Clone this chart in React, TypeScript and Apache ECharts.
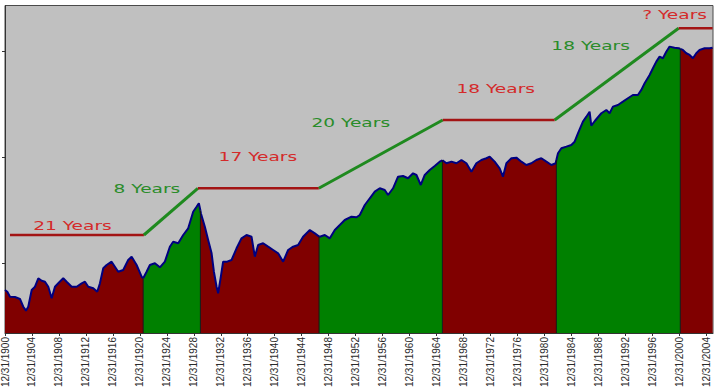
import React, { useEffect, useRef } from "react";
import * as echarts from "echarts";

// Dow Jones Industrial Average (log scale), x = decimal year
const bear1901: [number, number][] = [
  [1901.0, 56.3], [1901.34, 54.3], [1901.74, 48.7], [1902.48, 48.4], [1903.22, 46.4], [1903.71, 39.2],
  [1904.11, 36.0], [1904.45, 39.2], [1904.96, 56.3], [1905.45, 60.5], [1905.94, 72.6], [1906.44, 68.9],
  [1906.93, 67.4], [1907.42, 60.5], [1907.92, 47.1], [1908.41, 60.5], [1908.9, 65.1], [1909.64, 72.6],
  [1910.14, 67.4], [1910.89, 60.5], [1911.63, 60.5], [1912.37, 65.1], [1912.86, 67.4], [1913.35, 60.5],
  [1914.09, 58.5], [1914.68, 54.3], [1915.08, 65.1], [1915.57, 90.1], [1916.07, 96.8], [1916.81, 104],
  [1917.3, 93.3], [1917.79, 83.7], [1918.53, 86.9], [1919.27, 107.9], [1919.78, 115.9], [1920.52, 96.8],
  [1921.26, 75.1], [1921.5, 72.6],
];
const bull1921: [number, number][] = [
  [1921.5, 72.6], [1922.0, 83.7], [1922.49, 96.8], [1923.23, 100.4], [1923.97, 92.1], [1924.71, 104],
  [1925.45, 143.9], [1925.94, 160.4], [1926.69, 154.9], [1927.43, 185.4], [1928.17, 214.4], [1928.91, 307.1],
  [1929.41, 342.1], [1929.75, 368.4], [1929.98, 315],
];
const bear1929: [number, number][] = [
  [1929.98, 315], [1930.05, 296.7], [1930.64, 221.9], [1931.13, 166.4], [1931.64, 124.7], [1931.98, 83.7],
  [1932.38, 60.5], [1932.61, 52.4], [1932.97, 72.6], [1933.35, 104], [1933.95, 104], [1934.6, 107.9],
  [1935.34, 139], [1936.08, 172.6], [1936.82, 185.4], [1937.56, 178.7], [1938.05, 115.9], [1938.54, 149.3],
  [1939.28, 154.9], [1940.02, 143.9], [1940.77, 134], [1941.51, 124.7], [1942.25, 104], [1942.99, 134],
  [1943.73, 143.9], [1944.47, 149.3], [1945.21, 178.7], [1946.21, 206.6], [1946.95, 192.3], [1947.58, 179],
];
const bull1947: [number, number][] = [
  [1947.58, 179], [1947.69, 178.7], [1948.43, 185.4], [1949.17, 172.6], [1949.91, 206.6], [1950.65, 230.2],
  [1951.39, 256.6], [1952.39, 275.6], [1953.13, 272.1], [1953.62, 285.9], [1954.36, 355], [1955.1, 410.6],
  [1955.84, 473.6], [1956.58, 509.9], [1957.32, 491.4], [1957.81, 441], [1958.55, 509.9], [1959.29, 655.4],
  [1960.03, 665.5], [1960.77, 633.3], [1961.52, 705.5], [1962.02, 680], [1962.66, 547.6], [1963.25, 680],
  [1963.99, 757.8], [1964.73, 826.5], [1965.47, 907.4], [1965.87, 935],
];
const bear1965: [number, number][] = [
  [1965.87, 935], [1965.96, 941], [1966.47, 876.4], [1967.21, 907.4], [1967.95, 876.4], [1968.69, 941],
  [1969.43, 876.4], [1970.17, 730.3], [1970.91, 876.4], [1971.65, 941], [1972.39, 977], [1972.88, 1011],
  [1973.62, 907.4], [1974.36, 786.2], [1974.85, 655.4], [1975.36, 876.4], [1976.1, 977], [1976.84, 990],
  [1977.58, 907.4], [1978.32, 844.6], [1979.06, 876.4], [1979.8, 941], [1980.54, 977], [1981.29, 907.4],
  [1982.03, 844.6], [1982.67, 876.4], [1982.77, 940],
];
const bull1982: [number, number][] = [
  [1982.77, 940], [1983.01, 1088], [1983.51, 1213], [1984.25, 1256], [1984.99, 1303], [1985.48, 1399],
  [1985.97, 1678], [1986.71, 2158], [1987.22, 2404], [1987.7, 2679], [1987.95, 1980], [1988.5, 2200],
  [1989.44, 2588], [1990.18, 2780], [1990.67, 2588], [1991.16, 2985], [1991.9, 3097], [1992.64, 3327],
  [1993.38, 3581], [1994.12, 3847], [1994.86, 3847], [1995.37, 4289], [1995.86, 4958], [1996.6, 5932],
  [1997.09, 6857], [1997.59, 7915], [1998.08, 8818], [1998.57, 8515], [1999.07, 9822], [1999.56, 10955],
  [2000.3, 10715], [2000.94, 10578], [2001.15, 10450],
];
const bear2000: [number, number][] = [
  [2001.15, 10450], [2001.53, 10197], [2002.04, 9493], [2002.53, 9150], [2003.02, 8515], [2003.52, 9493],
  [2004.01, 10197], [2004.75, 10578], [2005.49, 10578], [2005.94, 10715],
];

const segments = [
  { kind: "bear", data: bear1901 },
  { kind: "bull", data: bull1921 },
  { kind: "bear", data: bear1929 },
  { kind: "bull", data: bull1947 },
  { kind: "bear", data: bear1965 },
  { kind: "bull", data: bull1982 },
  { kind: "bear", data: bear2000 },
];

// trend lines (secular markets)
const trendKinds = ["bear", "bull", "bear", "bull", "bear", "bull", "bear"];
const trendLines: [number, number][][] = [
  [[1901.74, 185.4], [1921.6, 185.4]],
  [[1921.6, 185.4], [1929.6, 509.9]],
  [[1929.6, 509.9], [1947.54, 509.9]],
  [[1947.54, 509.9], [1965.92, 2239]],
  [[1965.92, 2239], [1982.52, 2239]],
  [[1982.52, 2239], [2000.9, 16316]],
  [[2000.9, 16316], [2005.94, 16316]],
];
const trendLabels = ["21 Years", "8 Years", "17 Years", "20 Years", "18 Years", "18 Years", "? Years"];
const trendLabelAnchors: [number, number][] = [
  [1911.0, 225.3], [1922.05, 505.5], [1938.5, 1004], [1952.28, 2097], [1973.77, 4381], [1987.85, 11240], [2000.3, 21997],
];

// x tick labels: "12/31/Y" sits at the start of year Y+1
const tickYears = [1900, 1904, 1908, 1912, 1916, 1920, 1924, 1928, 1932, 1936, 1940, 1944, 1948, 1952,
  1956, 1960, 1964, 1968, 1972, 1976, 1980, 1984, 1988, 1992, 1996, 2000, 2004];
const yTicks = [100, 1000, 10000];
const X_MIN = 1901, X_MAX = 2006, Y_MIN = 22.2, Y_MAX = 26700;

const AREA = { bear: "#800000", bull: "#008000" } as Record<string, string>;
const TREND = { bear: "#a31414", bull: "#1f8a1f" } as Record<string, string>;
const TEXT = { bear: "#d42a2a", bull: "#2a8c2a" } as Record<string, string>;

export default function App() {
  const ref = useRef<HTMLDivElement>(null);
  useEffect(() => {
    if (!ref.current) return;
    const chart = echarts.init(ref.current, undefined, { renderer: "svg" });
    const series: any[] = [];
    segments.forEach((s) => {
      series.push({
        type: "line",
        data: s.data,
        symbol: "none",
        silent: true,
        z: 2,
        lineStyle: { color: "#000080", width: 2 },
        areaStyle: { color: AREA[s.kind], opacity: 1, origin: "start" },
      });
    });
    segments.slice(1).forEach((s) => {
      const [bx, bv] = s.data[0];
      series.push({
        type: "line",
        data: [[bx, Y_MIN], [bx, bv]],
        symbol: "none",
        silent: true,
        z: 3,
        lineStyle: { color: "#141414", width: 1 },
      });
    });
    trendLines.forEach((pts, i) => {
      series.push({
        type: "line",
        data: pts,
        symbol: "none",
        silent: true,
        z: 4,
        lineStyle: { color: TREND[trendKinds[i]], width: trendKinds[i] === "bull" ? 3 : 2.5 },
      });
    });

    chart.setOption({
      animation: false,
      backgroundColor: "#ffffff",
      grid: {
        left: 5, right: 4, top: 5.5, bottom: 55,
        outerBoundsMode: "none",
        containLabel: false,
        show: true, backgroundColor: "#c0c0c0", borderColor: "#4a4a4a", borderWidth: 1,
      },
      xAxis: {
        type: "value",
        min: X_MIN,
        max: X_MAX,
        splitLine: { show: false },
        axisLine: { show: true, lineStyle: { color: "#333", width: 1 } },
        axisTick: { show: true, length: 3, lineStyle: { color: "#333" }, customValues: tickYears.map((y) => y + 1) },
        axisLabel: {
          show: true,
          rotate: 90,
          margin: 4,
          customValues: tickYears.map((y) => y + 1),
          formatter: (v: number) => "12/31/" + (Math.round(v) - 1),
          color: "#2a2a2a",
          fontSize: 10,
          fontFamily: "'Liberation Sans', Arial, sans-serif",
        },
      },
      yAxis: {
        type: "log",
        logBase: 10,
        min: Y_MIN,
        max: Y_MAX,
        splitLine: { show: false },
        axisLine: { show: true, lineStyle: { color: "#333", width: 1 } },
        axisTick: { show: true, length: 3, lineStyle: { color: "#333" }, customValues: yTicks },
        axisLabel: { show: false },
      },
      series,
    });

    const graphics = trendLabels.map((t, i) => {
      const p = chart.convertToPixel({ gridIndex: 0 }, trendLabelAnchors[i]) as number[];
      return {
        type: "text",
        x: p[0],
        y: p[1],
        scaleX: 1.43,
        z: 10,
        silent: true,
        style: {
          text: t,
          fill: TEXT[trendKinds[i]],
          font: "13px 'DejaVu Sans', Verdana, sans-serif",
          align: "center",
          verticalAlign: "middle",
        },
      };
    });
    chart.setOption({ graphic: graphics });

    return () => chart.dispose();
  }, []);
  return (
    <div
      ref={ref}
      style={{ position: "fixed", left: 0, top: 0, width: 717, height: 388, background: "#fff" }}
    />
  );
}
